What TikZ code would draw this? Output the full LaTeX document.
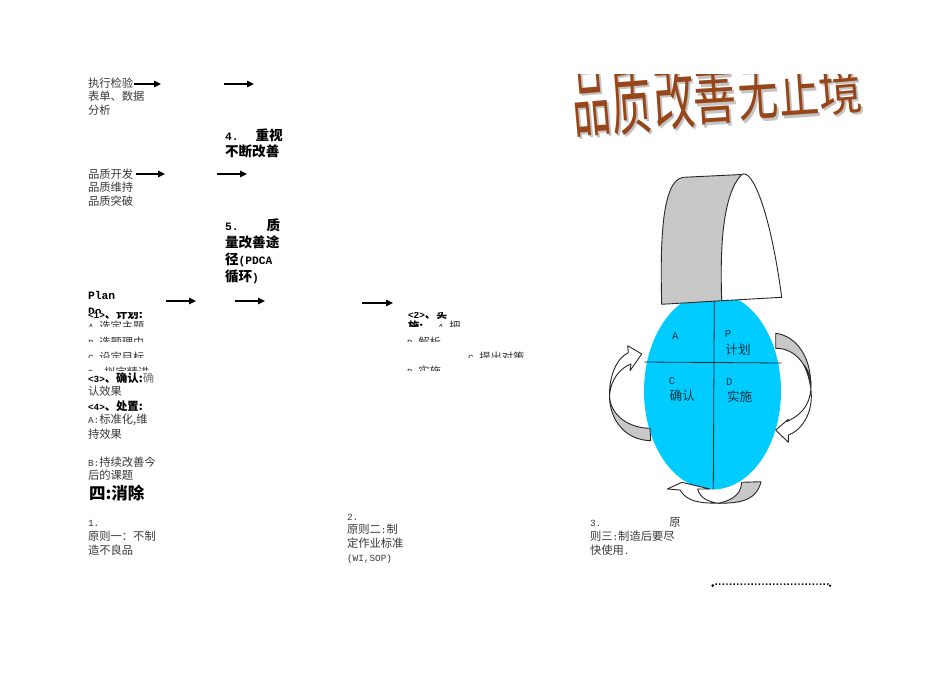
\documentclass[tikz,border=0pt]{standalone}
\usepackage{fontspec}
\usetikzlibrary{arrows.meta,shapes.geometric}
\setmainfont{Noto Sans CJK SC}
\newfontfamily\lat[Scale=0.83]{Liberation Mono}
\newcommand{\ltn}[1]{{\lat #1}}
\definecolor{cyanfill}{HTML}{00CCFF}
\definecolor{graybend}{HTML}{C8C8C8}
\definecolor{titlebrown}{HTML}{97461A}
\definecolor{titleshadow}{HTML}{C4C4C4}
\tikzset{
  txt/.style={anchor=base west,inner sep=0pt,outer sep=0pt,text=black!78,font=\fontsize{11.3}{13}\selectfont},
  hd/.style={anchor=base west,inner sep=0pt,outer sep=0pt,text=black,font=\fontsize{13.6}{15}\selectfont\bfseries},
  bd/.style={anchor=base west,inner sep=0pt,outer sep=0pt,text=black,font=\fontsize{11.3}{13}\selectfont\bfseries},
  big/.style={anchor=base west,inner sep=0pt,outer sep=0pt,text=black,font=\fontsize{16.5}{18}\selectfont\bfseries},
  inlab/.style={anchor=center,inner sep=0pt,outer sep=0pt,text=black!75!cyanfill,font=\fontsize{12.6}{14}\selectfont},
  flow/.style={draw=black,line width=1.1pt,-{Triangle[length=7pt,width=6.5pt]}},
  bendline/.style={draw=black!85,line width=0.9pt,line join=round},
  divider/.style={draw=black!80!cyanfill,line width=0.8pt},
  titlech/.style={anchor=center,inner sep=0pt,outer sep=0pt,font=\fontsize{40}{40}\selectfont}
}
\newcommand{\titlechar}[7]{% name,x,y,sx,sy,rot,char
  \node[titlech,text=titleshadow,rotate=#6] (#1s) at (#2+2,#3+2.2) {\scalebox{#4}[#5]{#7}};
  \node[titlech,text=titlebrown,rotate=#6] (#1) at (#2,#3) {\scalebox{#4}[#5]{#7}};
}
\begin{document}
\begin{tikzpicture}[x=1pt,y=-1pt]
\useasboundingbox (0,0) rectangle (950,672);
\fill[white] (0,0) rectangle (950,672);

% ---- left column texts
\node[txt] (a1) at (88,87) {执行检验};
\node[txt] (a2) at (88,100) {表单、数据};
\node[txt] (a3) at (88,114) {分析};
\node[hd] (b1) at (225,140) {\ltn{4.}\hspace{17pt}重视};
\node[hd] (b2) at (225,156.5) {不断改善};
\node[txt] (c1) at (88,178) {品质开发};
\node[txt] (c2) at (88,191) {品质维持};
\node[txt] (c3) at (88,205) {品质突破};
\node[hd] (d1) at (225,230.5) {\ltn{5.}\hspace{28pt}质};
\node[hd] (d2) at (225,247.5) {量改善途};
\node[hd] (d3) at (225,264) {径\ltn{(PDCA}};
\node[hd] (d4) at (225,281) {循环\ltn{)}};
\node[hd] (p1) at (88,299.5) {\ltn{Plan}};

\begin{scope}
  \clip (80,300) rectangle (130,312.8);
  \node[hd] (p2) at (88,315.5) {\ltn{Do}};
\end{scope}
\begin{scope}
  \clip (80,312.8) rectangle (160,318.5);
  \node[bd] (p3) at (88,318) {\ltn{<1>}、计划:};
\end{scope}
\begin{scope}
  \clip (80,319.5) rectangle (160,326);
  \node[txt] (p4) at (88,330) {\ltn{A.}选定主题};
\end{scope}
\begin{scope}
  \clip (80,335.5) rectangle (160,341.5);
  \node[txt] (p5) at (88,346) {\ltn{B.}选题理由};
\end{scope}
\begin{scope}
  \clip (80,351) rectangle (160,357);
  \node[txt] (p6) at (88,361.5) {\ltn{C.}设定目标};
\end{scope}
\begin{scope}
  \clip (80,366) rectangle (160,370.5);
  \node[txt] (p7) at (88,376.5) {\ltn{D.}\hspace{5pt}拟定精进};
\end{scope}

\node[bd] (q1) at (88,382) {\ltn{<3>}、确认:{\mdseries\color{black!55}确}};
\node[txt] (q2) at (88,395.7) {认效果};
\node[bd] (q3) at (88,410) {\ltn{<4>}、处置:};
\node[txt] (q4) at (88,423) {\ltn{A:}标准化,维};
\node[txt] (q5) at (88,438) {持效果};
\node[txt] (q6) at (88,466) {\ltn{B:}持续改善今};
\node[txt] (q7) at (88,479.7) {后的课题};
\node[big] (q8) at (89,499) {四:消除};

\node[txt] (r1) at (88,526) {\ltn{1.}};
\node[txt] (r2) at (88,540) {原则一：不制};
\node[txt] (r3) at (88,554) {造不良品};

\node[txt] (s1) at (347,520) {\ltn{2.}};
\node[txt] (s2) at (347,533) {原则二\ltn{:}制};
\node[txt] (s3) at (347,547) {定作业标准};
\node[txt] (s4) at (347,561) {\ltn{(WI,SOP)}};

\node[txt] (u1) at (590,526.7) {\ltn{3.}\hspace{68pt}原};
\node[txt] (u2) at (590,540.7) {则三\ltn{:}制造后要尽};
\node[txt] (u3) at (590,554.7) {快使用\ltn{.}};

% ---- clipped middle column
\begin{scope}
  \clip (400,312) rectangle (460,318.5);
  \node[bd] (v1) at (408,318) {\ltn{<2>}、实};
\end{scope}
\begin{scope}
  \clip (400,320) rectangle (470,326);
  \node[bd] (v2) at (408,330) {施:};
  \node[txt] (v3) at (438,330) {\ltn{A.}把};
\end{scope}
\begin{scope}
  \clip (400,336) rectangle (460,341.5);
  \node[txt] (v4) at (407,346) {\ltn{B.}解析};
\end{scope}
\begin{scope}
  \clip (460,351.5) rectangle (535,357);
  \node[txt] (v5) at (468,361.5) {\ltn{C.}提出对策};
\end{scope}
\begin{scope}
  \clip (400,365.5) rectangle (460,370);
  \node[txt] (v6) at (407,375.5) {\ltn{D.}实施};
\end{scope}

% ---- flow arrows
\coordinate (f1a) at (134,84);  \coordinate (f1b) at (161,84);
\coordinate (f2a) at (224,84);  \coordinate (f2b) at (254,84);
\coordinate (f3a) at (136,174); \coordinate (f3b) at (165,174);
\coordinate (f4a) at (217,174); \coordinate (f4b) at (247,174);
\coordinate (f5a) at (166,301); \coordinate (f5b) at (196,301);
\coordinate (f6a) at (235,301); \coordinate (f6b) at (265,301);
\coordinate (f7a) at (362,303); \coordinate (f7b) at (393,303);
\draw[flow] (f1a) -- (f1b);
\draw[flow] (f2a) -- (f2b);
\draw[flow] (f3a) -- (f3b);
\draw[flow] (f4a) -- (f4b);
\draw[flow] (f5a) -- (f5b);
\draw[flow] (f6a) -- (f6b);
\draw[flow] (f7a) -- (f7b);

% ---- title
\begin{scope}
  \clip (560,74) rectangle (880,150);
  \titlechar{t1}{590.5}{101.5}{0.95}{1.97}{5}{品}
  \titlechar{t2}{631}{100}{1.0}{1.89}{4.5}{质}
  \titlechar{t3}{674}{97.5}{1.03}{1.76}{4}{改}
  \titlechar{t4}{715}{95}{1.08}{1.62}{3.5}{善}
  \titlechar{t5}{758.5}{94}{1.0}{1.57}{3.5}{无}
  \titlechar{t6}{798.5}{91}{1.0}{1.4}{4}{止}
  \titlechar{t7}{840}{90}{1.08}{1.35}{5}{境}
\end{scope}

% ---- PDCA ellipse
\node[ellipse,draw=none,fill=cyanfill,inner sep=0pt,minimum width=137pt,minimum height=197pt] (pdca) at (712.5,391) {};
\coordinate (vt) at (714.3,300);
\coordinate (vb) at (713.3,489);
\coordinate (hl) at (644.3,362);
\coordinate (hr) at (781.7,363);
\draw[divider] (vt) -- (vb);
\draw[divider] (hl) -- (hr);
\node[inlab] (la) at (675.3,336) {\ltn{A}};
\node[inlab] (lp) at (728,334.5) {\ltn{P}};
\node[inlab] (lp2) at (738,349.3) {计划};
\node[inlab] (lc) at (672,381) {\ltn{C}};
\node[inlab] (lc2) at (682.3,396) {确认};
\node[inlab] (ld) at (729.3,382.5) {\ltn{D}};
\node[inlab] (ld2) at (739.7,397) {实施};

% ---- top bent shape
\coordinate (ba) at (661.7,304.3);
\coordinate (bb) at (721.7,300.7);
\coordinate (bc) at (781.7,297.3);
\coordinate (bd) at (741.7,174.5);
\coordinate (be) at (683.3,177.3);
\fill[white] (bb) .. controls (720,250) and (722,195) .. (bd)
  .. controls (752,168) and (770,210) .. (bc) -- cycle;
\fill[graybend] (ba) .. controls (660,240) and (662,180) .. (be) -- (bd)
  .. controls (722,195) and (720,250) .. (bb) -- cycle;
\draw[bendline] (ba) .. controls (660,240) and (662,180) .. (be) -- (bd)
  .. controls (752,168) and (770,210) .. (bc) -- (bb) -- cycle;
\draw[bendline] (bb) .. controls (720,250) and (722,195) .. (bd);

% ---- right curved arrow
\coordinate (ra) at (775.7,333.3);
\coordinate (rb) at (775.7,348.3);
\coordinate (rc) at (810.7,385);
\fill[graybend] (ra) .. controls (797,336) and (811,358) .. (rc)
  .. controls (808,365) and (795,348) .. (rb) -- cycle;
\draw[bendline] (rb) -- (ra) .. controls (797,336) and (811,358) .. (rc);
\filldraw[bendline,fill=white] (804,365) .. controls (811,380) and (812,395) .. (811,402)
  .. controls (809,420) and (798,432) .. (788.3,435)
  -- (788.3,442.3) -- (775.7,430) -- (788.3,419.3) -- (786.7,421.5)
  .. controls (797,417) and (811,408) .. (811,385)
  .. controls (811,377) and (808,370) .. (804,365) -- cycle;
\draw[bendline] (rb) .. controls (795,348) and (808,365) .. (rc);

% ---- left curved arrow
\coordinate (la1) at (650,428.3);
\coordinate (la2) at (650.7,440.7);
\coordinate (la3) at (609.5,397);
\fill[graybend] (la1) .. controls (628,428) and (611,415) .. (la3)
  .. controls (610,420) and (625,440) .. (la2) -- cycle;
\draw[bendline] (la1) -- (la2) .. controls (625,440) and (610,420) .. (la3);
\filldraw[bendline,fill=white] (la3)
  .. controls (609,375) and (617,358) .. (628.3,352.7)
  -- (627.7,345.7) -- (641.7,354) -- (630,370.7) -- (631,364)
  .. controls (620,368) and (610,380) .. (la3) -- cycle;
\draw[bendline] (la1) .. controls (628,428) and (611,415) .. (la3);

% ---- bottom curved arrow
\coordinate (ma) at (741.7,482.3);
\coordinate (mb) at (761,481.7);
\coordinate (mc) at (718.3,503.3);
\fill[graybend] (ma) .. controls (741,497) and (728,501) .. (mc)
  .. controls (735,503) and (756,503) .. (mb) -- cycle;
\draw[bendline] (ma) -- (mb) .. controls (756,503) and (735,503) .. (mc);
\filldraw[bendline,fill=white] (mc)
  .. controls (700,503) and (687,502) .. (680,490)
  -- (667.3,489) -- (681.7,482.3) -- (710,489) -- (697.7,489)
  .. controls (700,499) and (710,502) .. (mc) -- cycle;
\draw[bendline] (ma) .. controls (741,497) and (728,501) .. (mc);

% ---- dotted line
\coordinate (da) at (712.5,585.7);
\coordinate (db) at (714.5,584);
\coordinate (dc) at (828,584);
\coordinate (dd) at (830,585.7);
\draw[line width=1.5pt,dash pattern=on 1.4pt off 2.2pt] (da) -- (db) -- (dc) -- (dd);
\fill (da) circle (1.3pt);
\fill (dd) circle (1.3pt);
\end{tikzpicture}
\end{document}
